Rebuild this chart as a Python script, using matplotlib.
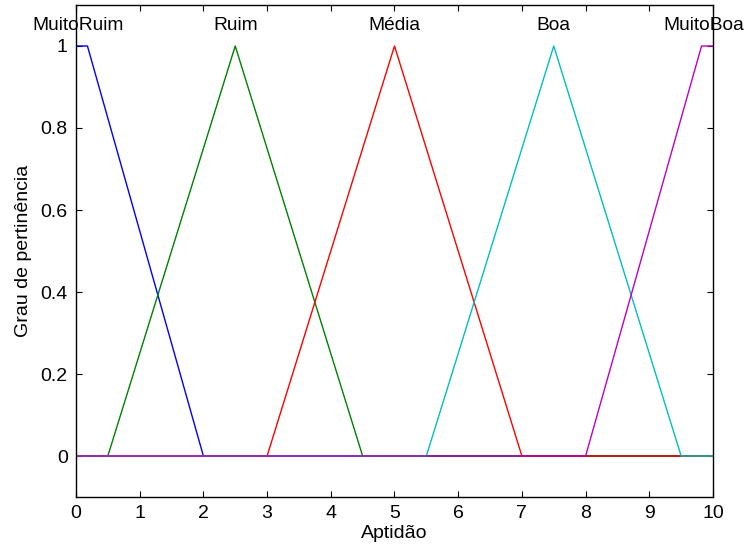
import matplotlib
matplotlib.use("Agg")
import matplotlib.pyplot as plt

plt.rcParams["font.family"] = ["Liberation Sans", "DejaVu Sans"]

# membership function names and vertex parameters (x breakpoints)
names = ["MuitoRuim", "Ruim", "Média", "Boa", "MuitoBoa"]
mf_x = [
    [0.0, 0.18, 2.0, 10.0],
    [0.0, 0.5, 2.5, 4.5, 10.0],
    [0.0, 3.0, 5.0, 7.0, 10.0],
    [0.0, 5.5, 7.5, 9.5, 10.0],
    [0.0, 8.0, 9.82, 10.0],
]
mf_y = [
    [1, 1, 0, 0],
    [0, 0, 1, 0, 0],
    [0, 0, 1, 0, 0],
    [0, 0, 1, 0, 0],
    [0, 0, 1, 1],
]
label_x = [0.04, 2.5, 5.0, 7.5, 9.86]
colors = ["#0000ff", "#008000", "#ff0000", "#00bfbf", "#bf00bf"]

fig = plt.figure(figsize=(7.47, 5.49), dpi=100)
ax = fig.add_axes([0.1017, 0.0947, 0.8528, 0.8962])

for xs, ys, c in zip(mf_x, mf_y, colors):
    ax.plot(xs, ys, color=c, linewidth=1.0)
for name, lx in zip(names, label_x):
    ax.text(lx, 1.05, name, ha="center", va="center", fontsize=13.8)

ax.set_xlim(0, 10)
ax.set_ylim(-0.1, 1.1)
ax.set_xticks(range(0, 11))
ax.set_yticks([0, 0.2, 0.4, 0.6, 0.8, 1])
ax.set_yticklabels(["0", "0.2", "0.4", "0.6", "0.8", "1"])
ax.tick_params(direction="in", top=True, right=True, labelsize=14, length=4, pad=6)
for s in ax.spines.values():
    s.set_linewidth(1.0)
ax.set_xlabel("Aptidão", fontsize=14, labelpad=2)
ax.set_ylabel("Grau de pertinência", fontsize=14, labelpad=6)

fig.savefig("out.png", dpi=100)
